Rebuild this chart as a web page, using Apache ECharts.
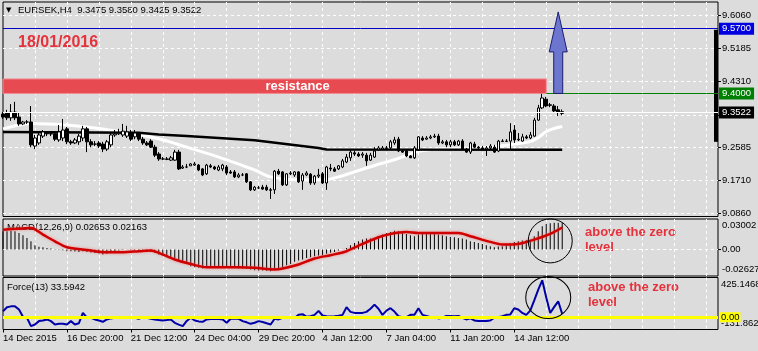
<!DOCTYPE html>
<html>
<head>
<meta charset="utf-8">
<script src="https://cdn.jsdelivr.net/npm/echarts@6/dist/echarts.min.js"></script>
<style>
  html, body { margin: 0; padding: 0; background: #dcdcdc; }
  #chart { width: 758px; height: 351px; }
</style>
</head>
<body>
<div id="chart"></div>
<script>
// EURSEK H4 candles, 14 Dec 2015 .. 18 Jan 2016
const opens = [
  9.346, 9.349, 9.336, 9.351, 9.338, 9.320, 9.325, 9.325, 9.262, 9.270,
  9.288, 9.296, 9.294, 9.294, 9.278, 9.283, 9.307, 9.273, 9.270, 9.273,
  9.283, 9.307, 9.273, 9.267, 9.270, 9.267, 9.254, 9.265, 9.291, 9.294,
  9.291, 9.288, 9.296, 9.286, 9.294, 9.280, 9.270, 9.275, 9.259, 9.241,
  9.228, 9.228, 9.225, 9.225, 9.246, 9.204, 9.207, 9.210, 9.212, 9.212,
  9.202, 9.189, 9.210, 9.207, 9.199, 9.202, 9.207, 9.194, 9.194, 9.181,
  9.186, 9.189, 9.168, 9.147, 9.152, 9.154, 9.154, 9.147, 9.147, 9.196,
  9.194, 9.160, 9.189, 9.186, 9.194, 9.170, 9.186, 9.188, 9.165, 9.183,
  9.189, 9.165, 9.204, 9.202, 9.202, 9.207, 9.220, 9.231, 9.244, 9.241,
  9.238, 9.238, 9.225, 9.233, 9.252, 9.254, 9.257, 9.257, 9.270, 9.280,
  9.249, 9.249, 9.236, 9.231, 9.252, 9.283, 9.280, 9.283, 9.286, 9.288,
  9.270, 9.273, 9.265, 9.273, 9.265, 9.275, 9.254, 9.246, 9.267, 9.259,
  9.257, 9.254, 9.257, 9.259, 9.249, 9.275, 9.274, 9.275, 9.304, 9.278,
  9.275, 9.286, 9.283, 9.288, 9.330, 9.362, 9.385, 9.370, 9.367, 9.357,
  9.3475
]
const closes = [
  9.338, 9.336, 9.351, 9.336, 9.320, 9.325, 9.325, 9.265, 9.283, 9.291,
  9.299, 9.294, 9.294, 9.280, 9.299, 9.304, 9.273, 9.270, 9.278, 9.288,
  9.307, 9.273, 9.265, 9.267, 9.262, 9.254, 9.273, 9.291, 9.294, 9.296,
  9.301, 9.299, 9.280, 9.296, 9.280, 9.270, 9.265, 9.259, 9.238, 9.228,
  9.228, 9.227, 9.231, 9.246, 9.202, 9.207, 9.207, 9.215, 9.215, 9.199,
  9.186, 9.212, 9.207, 9.202, 9.207, 9.212, 9.191, 9.191, 9.181, 9.186,
  9.186, 9.168, 9.147, 9.154, 9.152, 9.149, 9.147, 9.146, 9.196, 9.189,
  9.160, 9.189, 9.191, 9.194, 9.168, 9.186, 9.191, 9.165, 9.183, 9.186,
  9.165, 9.207, 9.202, 9.196, 9.210, 9.223, 9.233, 9.246, 9.241, 9.236,
  9.241, 9.223, 9.238, 9.249, 9.257, 9.257, 9.256, 9.273, 9.278, 9.249,
  9.246, 9.236, 9.231, 9.257, 9.286, 9.278, 9.283, 9.286, 9.288, 9.270,
  9.273, 9.265, 9.273, 9.265, 9.275, 9.254, 9.246, 9.270, 9.259, 9.257,
  9.254, 9.257, 9.262, 9.246, 9.275, 9.274, 9.275, 9.299, 9.278, 9.280,
  9.286, 9.283, 9.291, 9.330, 9.362, 9.388, 9.367, 9.369, 9.354, 9.351,
  9.3522
]
const lows = [
  9.333, 9.330, 9.328, 9.330, 9.315, 9.317, 9.320, 9.259, 9.254, 9.265,
  9.283, 9.288, 9.288, 9.275, 9.273, 9.275, 9.267, 9.265, 9.267, 9.265,
  9.275, 9.246, 9.259, 9.262, 9.257, 9.246, 9.249, 9.259, 9.286, 9.291,
  9.286, 9.283, 9.275, 9.280, 9.275, 9.265, 9.262, 9.257, 9.233, 9.223,
  9.225, 9.225, 9.223, 9.223, 9.199, 9.202, 9.204, 9.210, 9.210, 9.196,
  9.183, 9.186, 9.204, 9.199, 9.196, 9.196, 9.186, 9.189, 9.178, 9.178,
  9.183, 9.165, 9.144, 9.144, 9.149, 9.147, 9.144, 9.123, 9.136, 9.186,
  9.157, 9.157, 9.186, 9.181, 9.165, 9.147, 9.183, 9.160, 9.160, 9.178,
  9.162, 9.147, 9.196, 9.194, 9.199, 9.204, 9.217, 9.223, 9.236, 9.233,
  9.231, 9.210, 9.223, 9.231, 9.249, 9.252, 9.254, 9.252, 9.265, 9.246,
  9.244, 9.233, 9.231, 9.228, 9.249, 9.275, 9.278, 9.280, 9.283, 9.265,
  9.267, 9.259, 9.259, 9.262, 9.262, 9.252, 9.244, 9.241, 9.257, 9.254,
  9.252, 9.236, 9.252, 9.244, 9.246, 9.273, 9.273, 9.252, 9.270, 9.275,
  9.273, 9.280, 9.280, 9.286, 9.328, 9.359, 9.364, 9.364, 9.349, 9.341,
  9.3425
]
const highs = [
  9.351, 9.357, 9.372, 9.378, 9.349, 9.328, 9.330, 9.367, 9.291, 9.301,
  9.304, 9.301, 9.299, 9.299, 9.317, 9.333, 9.312, 9.278, 9.283, 9.294,
  9.315, 9.312, 9.280, 9.275, 9.275, 9.273, 9.278, 9.296, 9.304, 9.307,
  9.320, 9.315, 9.304, 9.304, 9.299, 9.286, 9.275, 9.280, 9.265, 9.246,
  9.233, 9.233, 9.236, 9.252, 9.252, 9.212, 9.215, 9.217, 9.220, 9.215,
  9.204, 9.215, 9.215, 9.210, 9.212, 9.215, 9.212, 9.199, 9.199, 9.191,
  9.191, 9.191, 9.170, 9.157, 9.157, 9.160, 9.160, 9.152, 9.199, 9.202,
  9.196, 9.191, 9.196, 9.196, 9.196, 9.191, 9.196, 9.191, 9.186, 9.202,
  9.194, 9.210, 9.215, 9.207, 9.212, 9.228, 9.241, 9.252, 9.249, 9.246,
  9.246, 9.244, 9.244, 9.259, 9.262, 9.262, 9.262, 9.278, 9.286, 9.286,
  9.252, 9.252, 9.238, 9.262, 9.288, 9.288, 9.288, 9.291, 9.294, 9.294,
  9.278, 9.278, 9.278, 9.278, 9.278, 9.280, 9.257, 9.273, 9.273, 9.262,
  9.262, 9.262, 9.267, 9.265, 9.278, 9.280, 9.280, 9.322, 9.317, 9.296,
  9.294, 9.291, 9.299, 9.336, 9.370, 9.399, 9.391, 9.375, 9.372, 9.367,
  9.358
]

// moving averages, read as [bar, price] points
const fastMA = [
  [0, 9.307], [7, 9.321], [16, 9.317], [24, 9.308], [32, 9.294], [39, 9.281],
  [46, 9.259], [54, 9.233], [63, 9.199], [67, 9.181], [74, 9.173], [81, 9.174],
  [84, 9.181], [88, 9.194], [93, 9.211], [98, 9.226], [101, 9.237], [104, 9.248],
  [110, 9.255], [118, 9.257], [123, 9.260], [128, 9.267], [132, 9.274], [134, 9.284],
  [136, 9.300], [138, 9.308], [140, 9.313]
]
const slowMA = [
  [0, 9.299], [34, 9.297], [39, 9.292], [46, 9.288], [63, 9.277], [79, 9.257],
  [81, 9.253], [140, 9.252]
]

// MACD(12,26,9)
const macdHist = [
  0.0179, 0.0179, 0.0185, 0.0179, 0.0162, 0.0139, 0.0113, 0.0080, 0.0041, 0.0025,
  0.0021, 0.0015, 0.0008, 0.0002, -0.0005, -0.0008, -0.0018, -0.0018, -0.0021, -0.0025,
  -0.0018, -0.0025, -0.0031, -0.0034, -0.0041, -0.0051, -0.0044, -0.0031, -0.0018, -0.0011,
  -0.0005, -0.0002, -0.0005, -0.0005, -0.0008, -0.0015, -0.0018, -0.0025, -0.0034, -0.0051,
  -0.0061, -0.0074, -0.0084, -0.0087, -0.0107, -0.0123, -0.0139, -0.0166, -0.0176, -0.0182,
  -0.0189, -0.0182, -0.0182, -0.0182, -0.0182, -0.0176, -0.0182, -0.0182, -0.0182, -0.0189,
  -0.0189, -0.0189, -0.0198, -0.0205, -0.0208, -0.0208, -0.0212, -0.0215, -0.0198, -0.0189,
  -0.0176, -0.0156, -0.0143, -0.0123, -0.0110, -0.0100, -0.0084, -0.0077, -0.0067, -0.0061,
  -0.0057, -0.0044, -0.0034, -0.0025, -0.0011, 0.0000, 0.0015, 0.0041, 0.0064, 0.0080,
  0.0097, 0.0107, 0.0107, 0.0113, 0.0130, 0.0146, 0.0162, 0.0172, 0.0185, 0.0179,
  0.0162, 0.0153, 0.0139, 0.0130, 0.0146, 0.0153, 0.0153, 0.0153, 0.0153, 0.0146,
  0.0139, 0.0130, 0.0123, 0.0120, 0.0113, 0.0107, 0.0097, 0.0080, 0.0074, 0.0064,
  0.0054, 0.0041, 0.0031, 0.0021, 0.0028, 0.0031, 0.0041, 0.0064, 0.0074, 0.0080,
  0.0087, 0.0090, 0.0094, 0.0130, 0.0179, 0.0228, 0.0251, 0.0258, 0.0262, 0.0262,
  0.0265
]
const macdSignal = [
  [0, 0.0195], [4, 0.0205], [7, 0.0212], [10, 0.0146], [13, 0.0080], [16, 0.0021],
  [21, -0.0005], [25, -0.0028], [30, -0.0028], [34, -0.0018], [37, -0.0011], [39, -0.0034],
  [43, -0.0100], [47, -0.0145], [51, -0.0176], [59, -0.0176], [63, -0.0182], [68, -0.0198],
  [70, -0.0189], [74, -0.0149], [78, -0.0090], [82, -0.0057], [86, -0.0018], [90, 0.0054],
  [94, 0.0120], [97, 0.0153], [101, 0.0172], [104, 0.0162], [114, 0.0162], [117, 0.0130],
  [122, 0.0074], [125, 0.0048], [129, 0.0054], [133, 0.0097], [137, 0.0153], [140, 0.0216]
]

// Force(13)
const force = [
  64, 107, 116, 116, 82, 4, -6, -96, -78, -42,
  -35, -24, -42, -78, -71, -71, -78, -42, -78, -65,
  46, -6, -6, -24, -35, -49, -24, -13, -6, 0,
  2, 0, -2, -6, -17, 0, -6, -17, -24, -30,
  -35, -30, -24, -60, -80, -96, -40, -6, -35, -45,
  -49, -24, -20, -17, -20, -24, -60, -17, -15, -17,
  -42, -55, -71, -60, -42, -52, -65, -78, -17, -24,
  -6, -4, -6, -6, 25, 32, 4, 10, 25, 68,
  18, 11, 8, 11, 15, 25, 107, 57, 46, 44,
  46, 57, 90, 135, 90, 25, 70, 96, 60, 10,
  0, 0, 25, 25, 96, 25, 14, 0, 0, -13,
  -6, 14, 14, 10, 14, -6, -24, -13, -35, -42,
  -42, -42, -35, -6, 0, 10, 25, 30, 96, 82,
  46, 25, 70, 180, 295, 395, 210, 45, 110, 170,
  33.5942
]

const tickLabels = ['14 Dec 2015', '16 Dec 20:00', '21 Dec 12:00', '24 Dec 04:00', '29 Dec 20:00',
  '4 Jan 12:00', '7 Jan 04:00', '11 Jan 20:00', '14 Jan 12:00']
const priceTicks = [9.0860, 9.1710, 9.2585, 9.3435, 9.4310, 9.5185, 9.6060]
const priceLabels = [9.0860, 9.1710, 9.2585, 9.4310, 9.5185, 9.6060]
const priceRange = [9.077, 9.640]
const macdRange = [-0.02627, 0.03002]
const forceRange = [-131.862, 425.1468]

const resistance = [9.400, 9.438]
const target = 9.5700
const bid = 9.3522
const arrow = [[139, 9.400, 9.509, 9.614]]   // bar, from, head base, tip

const FONT = '"Liberation Sans", Arial, sans-serif'
const barCount = 180
const categories = []
for (let i = 0; i < barCount; i++) categories.push(String(i))
const candles = opens.map((o, i) => [o, closes[i], lows[i], highs[i]])

const bg = '#dcdcdc'
const gridLine = { color: '#ffffff', type: [3, 3], width: 1 }
const labelEvery = i => i % 16 === 0 && i / 16 < tickLabels.length
const near = (a, b) => Math.abs(a - b) < 1e-9

function makeX(gridIndex, showLabels) {
  return {
    type: 'category',
    gridIndex: gridIndex,
    data: categories,
    boundaryGap: false,
    position: 'bottom',
    axisLine: { show: false, onZero: false },
    axisTick: { show: showLabels, interval: labelEvery, length: 3, lineStyle: { color: '#000' } },
    axisLabel: {
      show: showLabels,
      interval: labelEvery,
      formatter: (v, i) => tickLabels[i / 16] || '',
      align: 'left',
      margin: 4,
      color: '#000',
      fontSize: 9.5,
      fontFamily: FONT
    },
    splitLine: { show: true, interval: i => i > 0 && i % 8 === 0, lineStyle: gridLine }
  }
}

const rightLabel = {
  color: '#000',
  fontSize: 9.5,
  fontFamily: FONT,
  margin: 4,
  rich: {
    t: { padding: [13, 0, 0, 0], fontSize: 9.5, fontFamily: FONT, color: '#000' },
    b: { padding: [0, 0, 13, 0], fontSize: 9.5, fontFamily: FONT, color: '#000' }
  }
}

function levelLabel(text, bgColor, textColor) {
  return {
    show: true,
    position: 'end',
    distance: 1,
    formatter: text,
    backgroundColor: bgColor,
    color: textColor,
    fontSize: 9.5,
    fontFamily: FONT,
    padding: [1, 3, 1, 3]
  }
}

const chart = echarts.init(document.getElementById('chart'))

chart.setOption({
  animation: false,
  backgroundColor: bg,
  textStyle: { fontFamily: FONT },
  grid: [
    { left: 3, top: 2, width: 715, height: 214.5, show: true, backgroundColor: bg, borderColor: '#000', borderWidth: 1, outerBoundsMode: 'none', containLabel: false },
    { left: 3, top: 219, width: 715, height: 57, show: true, backgroundColor: bg, borderColor: '#000', borderWidth: 1, outerBoundsMode: 'none', containLabel: false },
    { left: 3, top: 277.5, width: 715, height: 52, show: true, backgroundColor: bg, borderColor: '#000', borderWidth: 1, outerBoundsMode: 'none', containLabel: false }
  ],
  xAxis: [makeX(0, false), makeX(1, false), makeX(2, true)],
  yAxis: [
    {
      type: 'value', gridIndex: 0, position: 'right',
      min: priceRange[0], max: priceRange[1],
      axisLine: { show: false },
      axisTick: { show: true, customValues: priceTicks, length: 3, lineStyle: { color: '#000' } },
      axisLabel: Object.assign({}, rightLabel, { customValues: priceLabels, formatter: v => v.toFixed(4) }),
      splitLine: { show: true, lineStyle: gridLine }
    },
    {
      type: 'value', gridIndex: 1, position: 'right',
      min: macdRange[0], max: macdRange[1],
      axisLine: { show: false },
      axisTick: { show: true, customValues: [0], length: 3, lineStyle: { color: '#000' } },
      axisLabel: Object.assign({}, rightLabel, {
        customValues: [macdRange[0], 0, macdRange[1]],
        formatter: v => near(v, macdRange[1]) ? '{t|' + v.toFixed(5) + '}'
          : near(v, macdRange[0]) ? '{b|' + v.toFixed(5) + '}' : '0.00'
      }),
      splitLine: { show: true, lineStyle: gridLine }
    },
    {
      type: 'value', gridIndex: 2, position: 'right',
      min: forceRange[0], max: forceRange[1],
      axisLine: { show: false },
      axisTick: { show: false },
      axisLabel: Object.assign({}, rightLabel, {
        margin: 3,
        customValues: [forceRange[0], forceRange[1]],
        formatter: v => near(v, forceRange[1]) ? '{t|' + v.toFixed(4) + '}' : '{b|' + v.toFixed(3) + '}'
      }),
      splitLine: { show: false }
    }
  ],
  graphic: [
    { type: 'text', x: 6, y: 10.5, style: { text: '▼', font: '7px "DejaVu Sans"', fill: '#000', verticalAlign: 'middle' } },
    { type: 'text', x: 18, y: 10.5, style: { text: 'EURSEK,H4  9.3475 9.3580 9.3425 9.3522', font: '9.5px ' + FONT, fill: '#000', verticalAlign: 'middle' } },
    { type: 'text', x: 18, y: 43, style: { text: '18/01/2016', font: 'bold 16px ' + FONT, fill: '#e5323c', verticalAlign: 'middle' } },
    { type: 'text', x: 7, y: 227, style: { text: 'MACD(12,26,9) 0.02653 0.02163', font: '9.5px ' + FONT, fill: '#000', verticalAlign: 'middle' } },
    { type: 'text', x: 7, y: 287, style: { text: 'Force(13) 33.5942', font: '9.5px ' + FONT, fill: '#000', verticalAlign: 'middle' } },
    { type: 'text', x: 585, y: 232, style: { text: 'above the zero', font: 'bold 13px ' + FONT, fill: '#e5323c', verticalAlign: 'middle' } },
    { type: 'text', x: 585, y: 247, style: { text: 'level', font: 'bold 13px ' + FONT, fill: '#e5323c', verticalAlign: 'middle' } },
    { type: 'text', x: 588, y: 287, style: { text: 'above the zero', font: 'bold 13px ' + FONT, fill: '#e5323c', verticalAlign: 'middle' } },
    { type: 'text', x: 588, y: 302, style: { text: 'level', font: 'bold 13px ' + FONT, fill: '#e5323c', verticalAlign: 'middle' } }
  ],
  series: [
    {
      name: 'fast MA', type: 'line', xAxisIndex: 0, yAxisIndex: 0, z: 1,
      data: fastMA, symbol: 'none', smooth: 0.3,
      lineStyle: { color: '#ffffff', width: 3 }
    },
    {
      name: 'slow MA', type: 'line', xAxisIndex: 0, yAxisIndex: 0, z: 1,
      data: slowMA, symbol: 'none',
      lineStyle: { color: '#000000', width: 2.5 }
    },
    {
      name: 'EURSEK', type: 'candlestick', xAxisIndex: 0, yAxisIndex: 0, z: 3,
      data: candles, barWidth: 3,
      itemStyle: { color: '#ffffff', color0: '#000000', borderColor: '#000000', borderColor0: '#000000', borderColorDoji: '#000000', borderWidth: 1 },
      markArea: {
        silent: true,
        data: [
          [
            {
              xAxis: '0', yAxis: resistance[0],
              itemStyle: { color: '#e84a52', borderColor: '#f38a90', borderWidth: 1 },
              label: { show: true, position: 'inside', formatter: 'resistance', color: '#ffffff', fontWeight: 'bold', fontSize: 13, fontFamily: FONT, offset: [23, 0] }
            },
            { xAxis: '136', yAxis: resistance[1] }
          ],
          [
            { xAxis: '178', yAxis: 9.273, itemStyle: { color: '#000000' }, label: { show: false } },
            { xAxis: '179', yAxis: 9.567 }
          ]
        ]
      },
      markLine: {
        silent: true,
        symbol: ['none', 'none'],
        data: [
          { yAxis: target, lineStyle: { color: '#0000c8', width: 1, type: 'solid' }, label: levelLabel(target.toFixed(4), '#0000e0', '#ffffff') },
          [
            { coord: ['136', resistance[0]], lineStyle: { color: '#008000', width: 1, type: 'solid' }, label: levelLabel(resistance[0].toFixed(4), '#008000', '#ffffff') },
            { coord: ['179', resistance[0]] }
          ],
          { yAxis: bid, lineStyle: { color: '#ffffff', width: 1, type: 'solid' }, label: levelLabel(bid.toFixed(4), '#000000', '#ffffff') }
        ]
      }
    },
    {
      name: 'target arrow', type: 'custom', xAxisIndex: 0, yAxisIndex: 0, z: 6,
      data: arrow,
      renderItem: (params, api) => {
        const base = api.coord([api.value(0), api.value(1)])
        const neck = api.coord([api.value(0), api.value(2)])
        const tip = api.coord([api.value(0), api.value(3)])
        const x = base[0]
        return {
          type: 'polygon',
          shape: {
            points: [
              [x - 4.5, base[1]], [x - 4.5, neck[1]], [x - 9, neck[1]], [x, tip[1]],
              [x + 9, neck[1]], [x + 4.5, neck[1]], [x + 4.5, base[1]]
            ]
          },
          style: { fill: '#6c76cf', stroke: '#1c1c70', lineWidth: 1 }
        }
      }
    },
    {
      name: 'MACD', type: 'bar', xAxisIndex: 1, yAxisIndex: 1,
      data: macdHist, barWidth: 1,
      itemStyle: { color: '#000000' },
      markPoint: {
        silent: true,
        data: [{ coord: ['137', 0.0084], symbol: 'circle', symbolSize: [44, 44] }],
        itemStyle: { color: 'rgba(0,0,0,0)', borderColor: '#000000', borderWidth: 1 },
        label: { show: false }
      }
    },
    {
      name: 'Signal', type: 'line', xAxisIndex: 1, yAxisIndex: 1, z: 3,
      data: macdSignal, symbol: 'none', smooth: 0.3,
      lineStyle: { color: '#d00000', width: 2.5, shadowColor: 'rgba(255,80,80,0.6)', shadowBlur: 3 }
    },
    {
      name: 'Force', type: 'line', xAxisIndex: 2, yAxisIndex: 2, z: 2,
      data: force, symbol: 'none',
      lineStyle: { color: '#0000a8', width: 2 },
      markLine: {
        silent: true,
        symbol: ['none', 'none'],
        data: [{ yAxis: 0, lineStyle: { color: '#ffff00', width: 3, type: 'solid' }, label: Object.assign(levelLabel('0.00', '#ffff00', '#000000'), { padding: [0, 1, 0, 2] }) }]
      },
      markPoint: {
        silent: true,
        data: [{ coord: ['137', 211], symbol: 'circle', symbolSize: [45, 42], symbolOffset: [-2, 0] }],
        itemStyle: { color: 'rgba(0,0,0,0)', borderColor: '#000000', borderWidth: 1 },
        label: { show: false }
      }
    }
  ]
})
</script>
</body>
</html>
